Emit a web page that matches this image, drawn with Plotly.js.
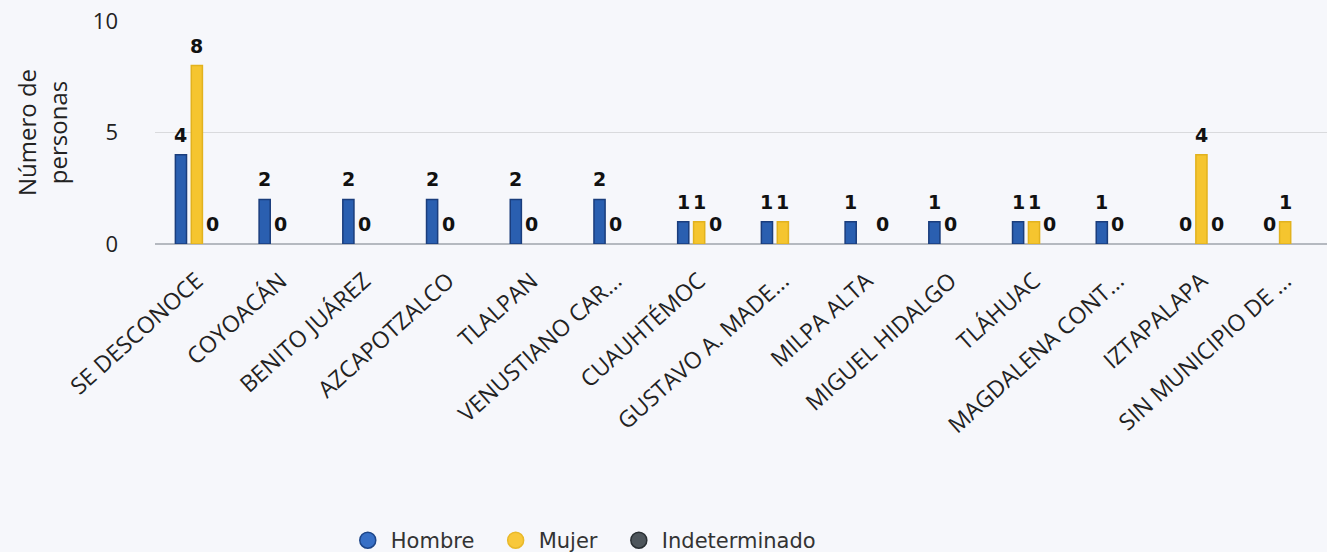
<!DOCTYPE html>
<html>
<head>
<meta charset="utf-8">
<script src="https://cdn.plot.ly/plotly-3.0.1.min.js"></script>
<style>
html,body{margin:0;padding:0;background:#f6f7fb;}
#chart{width:1327px;height:552px;}
</style>
</head>
<body>
<div id="chart"></div>
<script>
const categories = ["SE DESCONOCE","COYOACÁN","BENITO JUÁREZ","AZCAPOTZALCO","TLALPAN","VENUSTIANO CAR...","CUAUHTÉMOC","GUSTAVO A. MADE...","MILPA ALTA","MIGUEL HIDALGO","TLÁHUAC","MAGDALENA CONT...","IZTAPALAPA","SIN MUNICIPIO DE ..."];
const hombre = [4,2,2,2,2,2,1,1,1,1,1,1,0,0];
const mujer = [8,0,0,0,0,0,1,1,null,0,1,0,4,1];
const indeterminado = [0,null,null,null,null,null,0,null,0,null,0,null,0,null];
const seriesNames = ["Hombre","Mujer","Indeterminado"];
const yTicks = [0,5,10];

const fills = ["#2a5fb0","#f5c52f","#4b5359"];
const lines = ["#1a3d7c","#e2b21e","#2c3236"];
const legendFills = ["#3870c6","#f8c83a","#4e565c"];
const legendLines = ["#1d4689","#e9b92a","#2a3034"];

const bargap = 0.43;
const allSeries = [hombre, mujer, indeterminado];

const traces = allSeries.map((vals, t) => ({
  type: "bar",
  x: categories,
  y: vals,
  name: seriesNames[t],
  showlegend: false,
  marker: {color: fills[t], line: {color: lines[t], width: vals.map(v => (v ? 1.5 : 0))}},
  hoverinfo: "x+y+name"
}));

seriesNames.forEach((n, t) => {
  traces.push({
    type: "scatter",
    mode: "markers",
    x: [null], y: [null],
    name: t < seriesNames.length - 1 ? n + "&nbsp;&nbsp;" : n,
    showlegend: true,
    marker: {symbol: "circle", size: 19, color: legendFills[t], line: {color: legendLines[t], width: 1.5}}
  });
});

const slot = (1 - bargap) / 3;
const annotations = [];
allSeries.forEach((vals, t) => {
  vals.forEach((v, i) => {
    if (v === null) return;
    annotations.push({
      xref: "x", yref: "y",
      x: i + (t - 1) * slot,
      y: v,
      text: String(v),
      showarrow: false,
      yanchor: "bottom",
      yshift: 7,
      font: {family: "DejaVu Sans, Verdana, sans-serif", size: 19, color: "#111", weight: "bold"}
    });
  });
});

const layout = {
  width: 1327, height: 552,
  paper_bgcolor: "#f6f7fb",
  plot_bgcolor: "#f6f7fb",
  margin: {l: 155, r: 0, t: 21, b: 308, autoexpand: false},
  barmode: "group",
  bargap: bargap,
  bargroupgap: 0.3,
  font: {family: "Open Sans, sans-serif", color: "#222"},
  xaxis: {
    type: "category",
    tickangle: -42,
    tickfont: {family: "Open Sans, sans-serif", size: 23, color: "#222"},
    ticklabelstandoff: 18,
    showgrid: false,
    showline: false,
    ticks: "",
    automargin: false
  },
  yaxis: {
    range: [0, 10],
    tickvals: yTicks,
    ticktext: yTicks.map(String),
    tickfont: {family: "Open Sans, sans-serif", size: 22, color: "#222"},
    ticklabelstandoff: 36,
    showgrid: true,
    gridcolor: "#d9dadd",
    gridwidth: 1,
    zeroline: true,
    zerolinecolor: "#b5b9c0",
    zerolinewidth: 2,
    showline: false,
    automargin: false,
    title: {text: "Número de<br>personas", font: {family: "Open Sans, sans-serif", size: 24, color: "#222"}, standoff: 18}
  },
  legend: {
    orientation: "h",
    x: 0.365, xanchor: "center",
    y: -1.33, yanchor: "middle",
    font: {family: "DejaVu Sans, sans-serif", size: 21, color: "#333"},
    bgcolor: "rgba(0,0,0,0)",
    itemwidth: 36
  },
  annotations: annotations
};

Plotly.newPlot("chart", traces, layout, {displayModeBar: false, staticPlot: true});
</script>
</body>
</html>
